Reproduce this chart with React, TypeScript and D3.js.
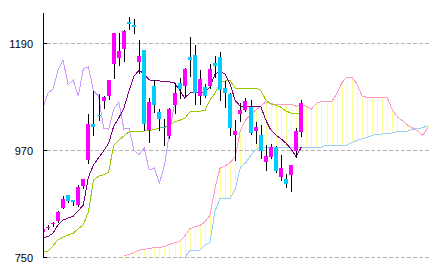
import React from 'react';
import * as d3 from 'd3';

// ---- data ----
const openV = [802,811,818,824,851,877,867,857,897,949,1023,1041,1070,1082,1146,1160,1178,1234,1227,1150,1175,1012,1102,1049,1017,999,1062,1107,1101,1162,1165,1081,1100,1102,1148,1161,1098,1086,1001,1044,1052,1059,1009,1001,946,956,976,915,911,918,967,1008];
const highV = [808,815,822,845,875,878,868,898,911,1044,1091,1085,1081,1114,1211,1211,1217,1244,1240,1196,1176,1076,1114,1054,1034,1056,1108,1119,1138,1203,1186,1134,1106,1146,1163,1171,1112,1087,1032,1066,1076,1073,1028,1021,980,982,978,960,921,939,1015,1073];
const lowV = [801,807,814,821,850,863,857,854,892,943,1001,1032,1056,1075,1118,1145,1153,1218,1211,1128,1011,987,1048,1011,980,995,1046,1077,1081,1122,1065,1065,1079,1097,1120,1073,1058,1001,949,1029,1050,1003,984,954,929,954,925,908,894,886,956,998];
const closeV = [807,812,819,843,869,865,864,894,910,1024,1018,1039,1078,1114,1210,1173,1214,1229,1222,1163,1024,1068,1062,1034,1015,1054,1088,1095,1137,1155,1088,1116,1082,1137,1143,1093,1087,1016,1009,1052,1070,1004,1017,967,958,976,927,933,901,939,1009,1066];
const tenkan = [789,792,799,816,826,830,834,845,857,914,939,954,968,984,1019,1036,1056,1091,1122,1134,1126,1114,1113,1112,1111,1110,1108,1093,1077,1087,1089,1089,1089,1100,1126,1132,1126,1104,1071,1060,1060,1060,1060,1060,1032,1011,1001,993,984,972,956,976];
const kijun = [760,762,773,785,791,795,799,808,816,843,908,916,919,925,980,990,999,1007,1008,1009,1009,1010,1012,1015,1017,1021,1028,1031,1035,1048,1050,1050,1051,1073,1087,1110,1112,1112,1097,1097,1097,1097,1097,1093,1073,1065,1062,1058,1050,1046,1046,1046];
const chikou = [1055,1087,1095,1134,1155,1104,1114,1081,1137,1141,1091,1081,1015,1013,1054,1069,1013,1015,970,960,974,929,933,902,937,1007,1065];
const cloudStart = 16;
const senkouA = [753,755,759,764,766,767,770,770,771,776,779,782,793,808,812,815,822,836,892,933,937,945,956,1011,1032,1042,1052,1060,1069,1065,1064,1064,1064,1064,1060,1064,1060,1054,1066,1070,1070,1070,1085,1108,1120,1119,1106,1081,1078,1078,1078,1078,1077,1052,1038,1030,1021,1015,1009,1000,1016];
const senkouB = [740,741,741,742,742,743,744,744,745,746,747,747,749,763,764,764,775,780,845,871,871,871,890,935,943,958,971,975,976,976,976,976,976,976,976,976,976,976,976,976,980,980,980,980,980,985,990,993,996,1000,1002,1003,1003,1005,1008,1008,1009,1013,1014,1016,1020];
const yTicks = [750, 970, 1190];

export default function App() {
  const W = 433, H = 271;
  const x = d3.scaleLinear().domain([0, 76]).range([42.8, 427.9]);
  const y = d3.scaleLinear().domain([750, 1190]).range([257, 43]);
  const line = d3.line<[number, number]>().x(d => x(d[0])).y(d => y(d[1]));

  const ser = (arr: number[], start: number) => arr.map((v, i) => [i + start, v] as [number, number]);

  return (
    <svg width={W} height={H} style={{ position: 'absolute', left: 0, top: 0, display: 'block', background: '#fff' }} shapeRendering="crispEdges">
      <defs>
        <clipPath id="plot"><rect x={43.5} y={0} width={W - 43.5} height={257.5} /></clipPath>
      </defs>
      <g clipPath="url(#plot)">
        {senkouA.map((a, i) => {
          const fx = Math.round(x(i + cloudStart)) + 0.5;
          return <line key={'f' + i} x1={fx} x2={fx} y1={y(a)} y2={y(senkouB[i])} stroke="#ffff99" strokeWidth={1} />;
        })}
      </g>
      {yTicks.map(t => (
        <g key={'g' + t}>
          <line x1={47} x2={430} y1={Math.round(y(t)) + 0.5} y2={Math.round(y(t)) + 0.5} stroke="#b4b4b4" strokeDasharray="4,2" />
          <line x1={43} x2={47} y1={Math.round(y(t)) + 0.5} y2={Math.round(y(t)) + 0.5} stroke="#000" />
          <text x={33} y={y(t) + 4.5} textAnchor="end" fontFamily="Liberation Sans, Arial, sans-serif" fontSize={11} fill="#000">{t}</text>
        </g>
      ))}
      <g clipPath="url(#plot)" fill="none" strokeWidth={1}>
        <path d={line(ser(senkouB, cloudStart)) || ''} stroke="#99ccff" />
        <path d={line(ser(senkouA, cloudStart)) || ''} stroke="#ff99cc" />
        <path d={line(ser(chikou, 0)) || ''} stroke="#cc99ff" />
        <path d={line(ser(kijun, 0)) || ''} stroke="#99cc00" />
        <path d={line(ser(tenkan, 0)) || ''} stroke="#800080" />
      </g>
      <g clipPath="url(#plot)">
        {openV.map((o, i) => {
          const c = closeV[i];
          const bx = Math.round(x(i) - 2);
          const up = c >= o;
          const top = Math.round(y(Math.max(o, c)));
          const bot = Math.round(y(Math.min(o, c)));
          const wx = bx + 2.5;
          return (
            <g key={'c' + i}>
              <line x1={wx} x2={wx} y1={Math.round(y(highV[i]))} y2={Math.round(y(lowV[i])) + 1} stroke="#000" />
              <rect x={bx} y={top} width={4} height={Math.max(1, bot - top)} fill={up ? '#ff00ff' : '#00ccff'} />
            </g>
          );
        })}
      </g>
      <line x1={43.5} x2={43.5} y1={13} y2={257.5} stroke="#000" />
    </svg>
  );
}
